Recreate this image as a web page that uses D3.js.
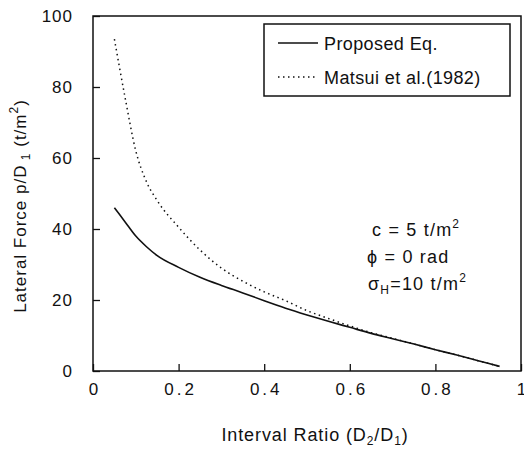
<!DOCTYPE html>
<html><head><meta charset="utf-8">
<script src="https://cdn.jsdelivr.net/npm/d3@7"></script>
<style>
body{margin:0;background:#fff;}
text{font-family:"Liberation Sans",Arial,Helvetica,sans-serif;fill:#111;}
</style></head>
<body><svg id="c" width="524" height="452"></svg>
<script>
const ratios   = [0.05,0.075,0.1,0.125,0.15,0.2,0.25,0.3,0.35,0.4,0.45,0.5,0.55,0.6,0.65,0.7,0.75,0.8,0.85,0.9,0.95];
const proposed = [46,42,38,35,32.5,29.2,26.4,24.1,22,19.8,17.7,15.8,14,12.3,10.6,9.1,7.6,6.0,4.5,2.9,1.3];
const matsui   = [93.5,77,62,53.3,48,40.5,34.1,29,25.3,22.3,19.8,17.0,14.8,12.7,10.8,9.2,7.6,6.0,4.5,2.9,1.3];
const xTicks = [0,0.2,0.4,0.6,0.8,1];
const xTickLabels = ["0","0.2","0.4","0.6","0.8","1"];
const yTicks = [0,20,40,60,80,100];
const seriesNames = ["Proposed Eq.","Matsui et al.(1982)"];

const svg = d3.select("#c");
const L=93,R=521,T=16,B=371;
const x = d3.scaleLinear().domain([0,1]).range([L,R]);
const y = d3.scaleLinear().domain([0,100]).range([B,T]);

const xa = svg.append("g").attr("transform",`translate(0,${B})`)
  .call(d3.axisBottom(x).tickValues(xTicks).tickSize(-7).tickFormat((d,i)=>xTickLabels[i]).tickPadding(12));
xa.select(".domain").remove();
xa.selectAll("line").attr("stroke","#111").attr("stroke-width",1.3);
xa.selectAll("text").attr("font-size",17).attr("fill","#111").attr("dy","0.71em")
  .attr("letter-spacing",3).attr("dx",1.5);
const ya = svg.append("g").attr("transform",`translate(${L},0)`)
  .call(d3.axisLeft(y).tickValues(yTicks).tickSize(-7).tickPadding(20));
ya.select(".domain").remove();
ya.selectAll("line").attr("stroke","#111").attr("stroke-width",1.3);
ya.selectAll("text").attr("font-size",17).attr("fill","#111").attr("letter-spacing",1);

svg.append("rect").attr("x",L).attr("y",T).attr("width",R-L).attr("height",B-T)
  .attr("fill","none").attr("stroke","#111").attr("stroke-width",1.5);

const line = d3.line().x(d=>x(d[0])).y(d=>y(d[1])).curve(d3.curveMonotoneX);
svg.append("path").datum(ratios.map((r,i)=>[r,matsui[i]])).attr("d",line)
  .attr("fill","none").attr("stroke","#111").attr("stroke-width",1.5).attr("stroke-dasharray","1.5,3.5");
svg.append("path").datum(ratios.map((r,i)=>[r,proposed[i]])).attr("d",line)
  .attr("fill","none").attr("stroke","#111").attr("stroke-width",1.6);

// legend
const lg = svg.append("g");
lg.append("rect").attr("x",264).attr("y",24).attr("width",246).attr("height",72)
  .attr("fill","#fff").attr("stroke","#111").attr("stroke-width",1.5);
lg.append("line").attr("x1",278).attr("x2",318).attr("y1",43).attr("y2",43).attr("stroke","#111").attr("stroke-width",1.6);
lg.append("line").attr("x1",278).attr("x2",318).attr("y1",77).attr("y2",77).attr("stroke","#111").attr("stroke-width",1.5).attr("stroke-dasharray","1.5,3.5");
lg.append("text").attr("x",324).attr("y",50).attr("font-size",18).attr("letter-spacing",0.4).text(seriesNames[0]);
lg.append("text").attr("x",324).attr("y",84).attr("font-size",18).attr("letter-spacing",0.4).text(seriesNames[1]);

// annotation
const ann = svg.append("g").attr("font-size",18).attr("letter-spacing",1.2);
const a1 = ann.append("text").attr("x",372).attr("y",236);
a1.append("tspan").text("c = 5 t/m");
a1.append("tspan").attr("font-size",12).attr("dy",-8).text("2");
ann.append("text").attr("x",367).attr("y",263).text("\u03D5 = 0 rad");
const a3 = ann.append("text").attr("x",368).attr("y",290);
a3.append("tspan").text("\u03C3");
a3.append("tspan").attr("font-size",12).attr("dy",4).text("H");
a3.append("tspan").attr("dy",-4).text("=10 t/m");
a3.append("tspan").attr("font-size",12).attr("dy",-8).text("2");

// x title
const xt = svg.append("text").attr("x",(L+R)/2+8).attr("y",441).attr("font-size",18).attr("letter-spacing",0.9).attr("text-anchor","middle");
xt.append("tspan").text("Interval Ratio (D");
xt.append("tspan").attr("font-size",12).attr("dy",4).text("2");
xt.append("tspan").attr("dy",-4).text("/D");
xt.append("tspan").attr("font-size",12).attr("dy",4).text("1");
xt.append("tspan").attr("dy",-4).text(")");

// y title
const yt = svg.append("text").attr("transform","translate(26,206) rotate(-90)").attr("font-size",17).attr("letter-spacing",1).attr("text-anchor","middle");
yt.append("tspan").text("Lateral Force p/D");
yt.append("tspan").attr("font-size",12).attr("dy",4).text(" 1");
yt.append("tspan").attr("dy",-4).text(" (t/m");
yt.append("tspan").attr("font-size",12).attr("dy",-8).text("2");
yt.append("tspan").attr("dy",8).text(")");
</script></body></html>
